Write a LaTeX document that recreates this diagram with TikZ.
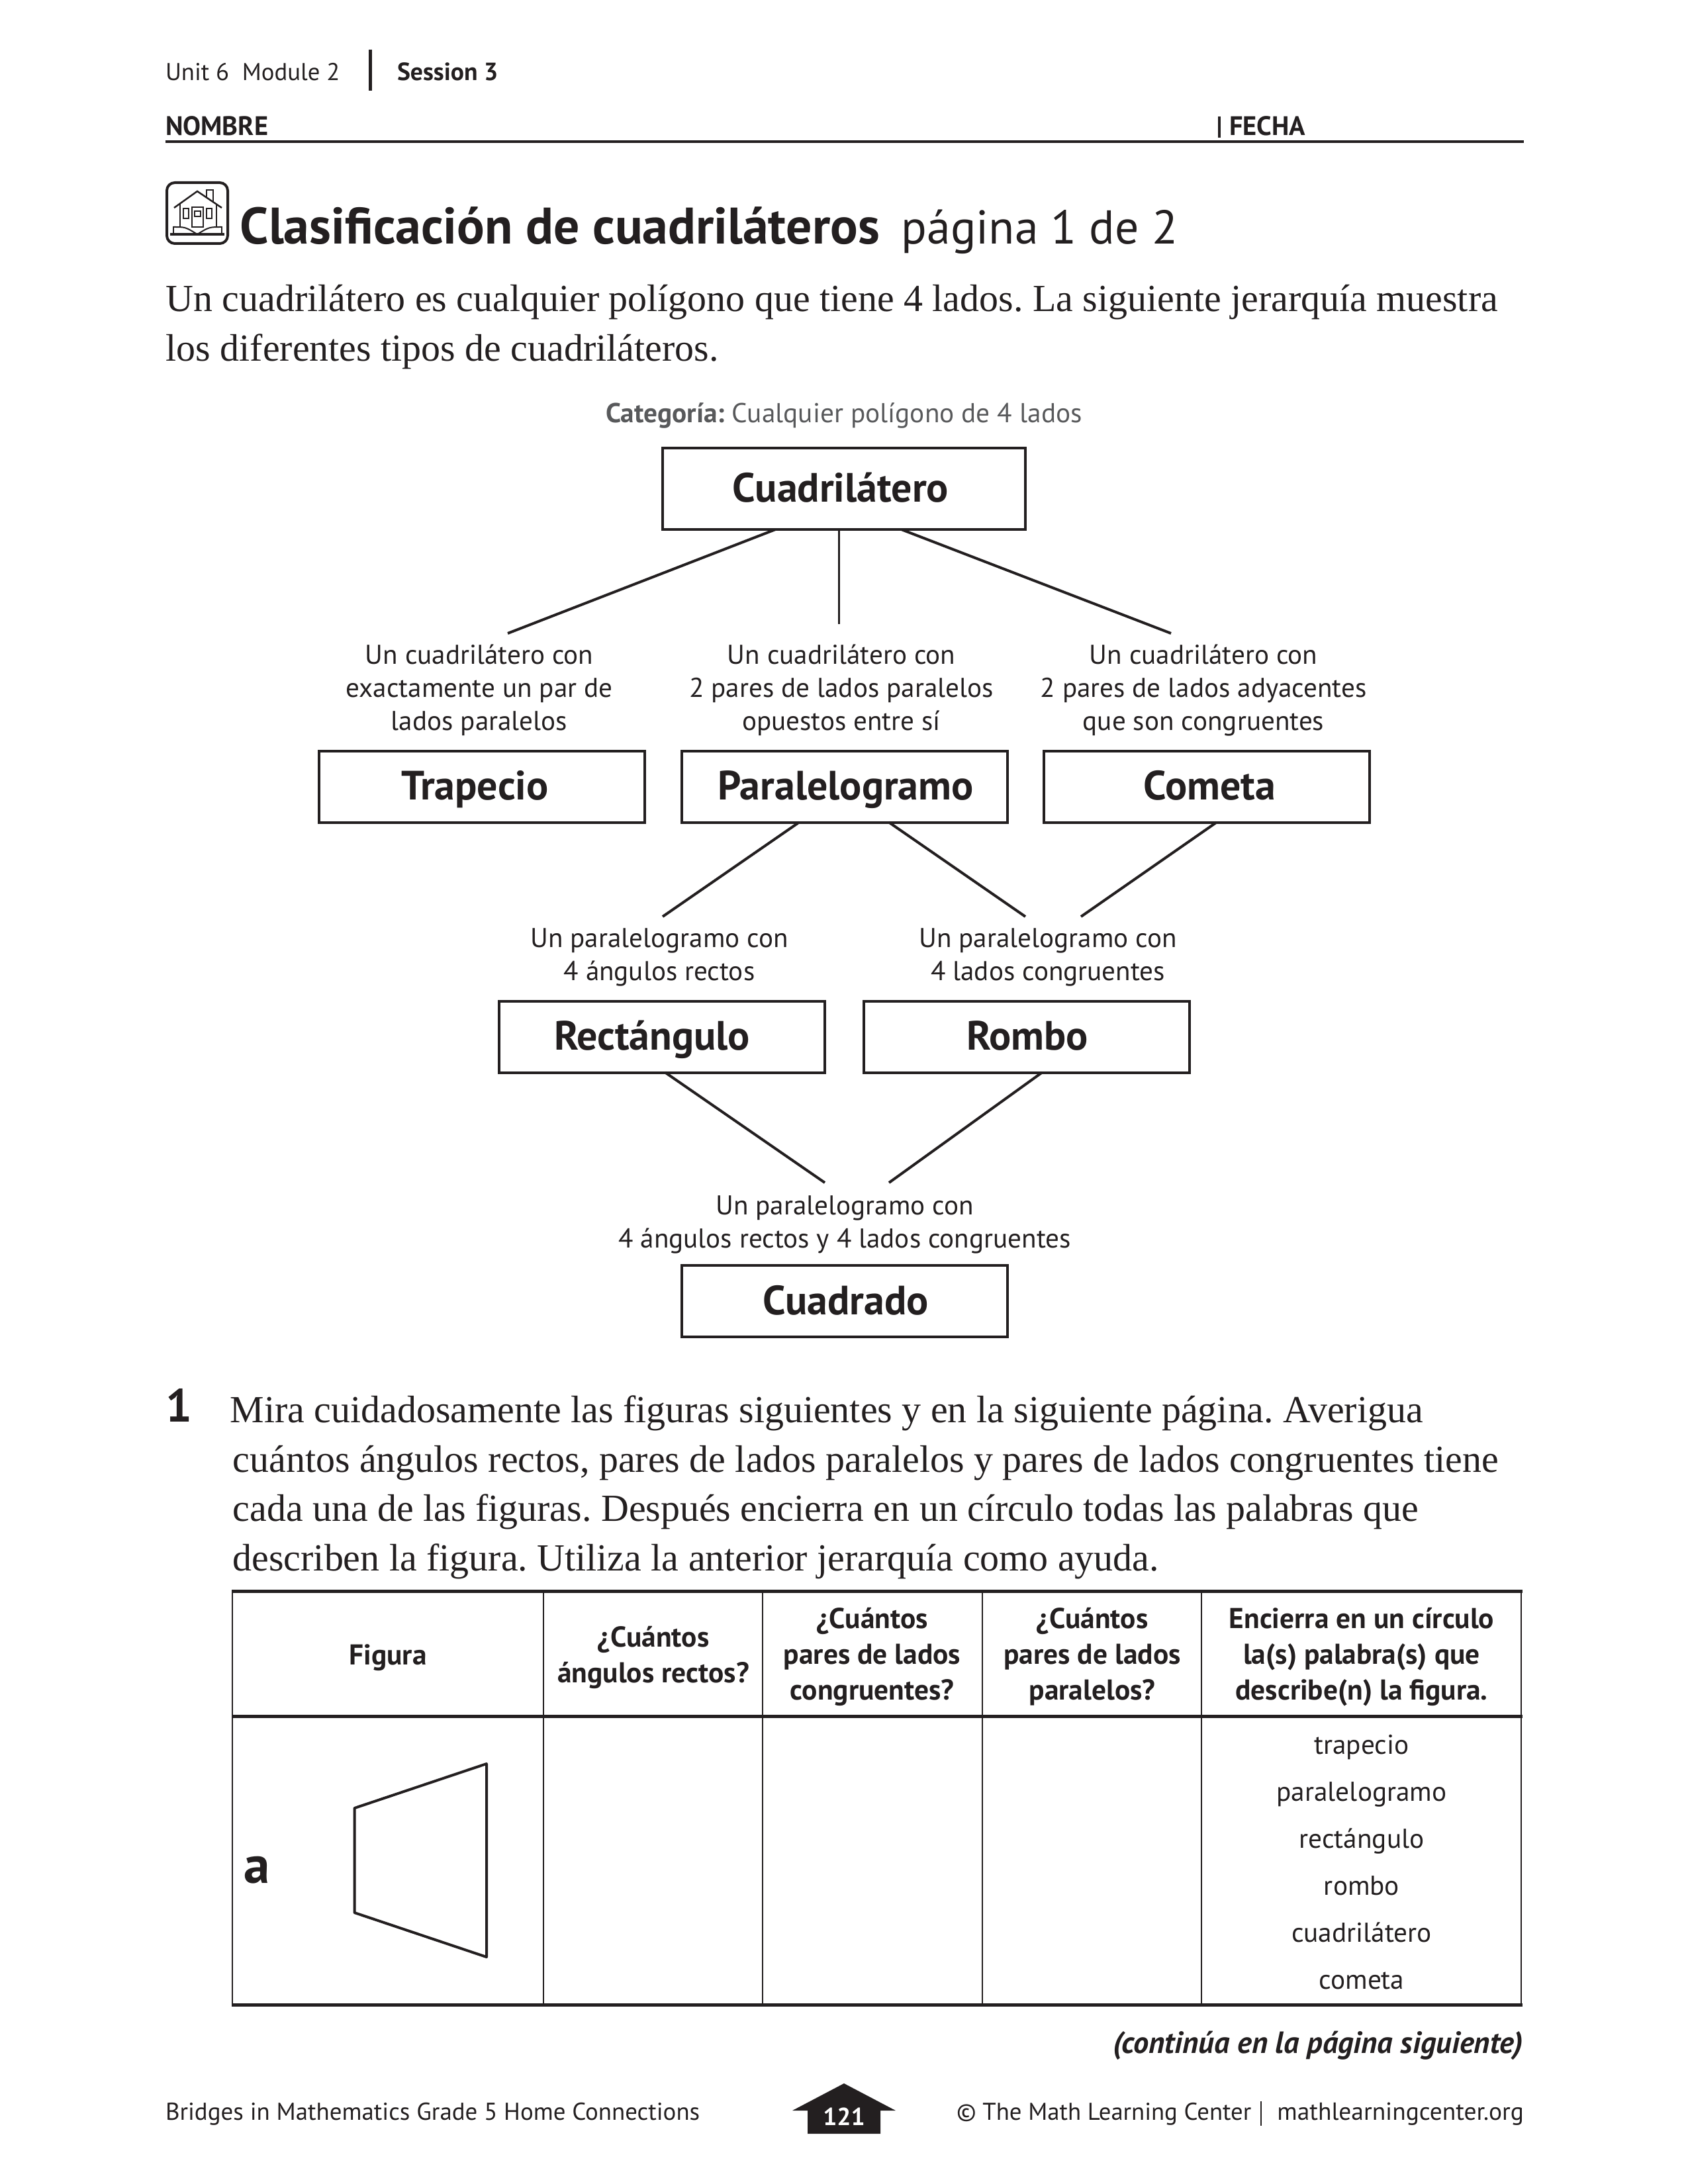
\documentclass[tikz,border=0pt]{standalone}
\usepackage{fontspec}
\usepackage{xcolor}
\setmainfont{Liberation Serif}
\setsansfont{PT Sans}
\usetikzlibrary{calc}
\definecolor{ink}{HTML}{231F20}
\definecolor{catgray}{HTML}{58595B}
\frenchspacing
\tikzset{
pagetext/.style={inner sep=0,outer sep=0,text=ink,font=\sffamily\fontsize{10.45}{12}\selectfont},
pagebold/.style={pagetext,font=\sffamily\bfseries\fontsize{10.7}{12}\selectfont},
capsbold/.style={pagetext,font=\sffamily\bfseries\fontsize{11.5}{12}\selectfont},
bodyline/.style={anchor=base west,inner sep=0,text=ink,font=\fontsize{16.48}{20}\selectfont},
catbox/.style={draw=ink,line width=.04cm,inner sep=0,outer sep=0,minimum width=4.92cm,minimum height=1.08cm,text height=.5cm,text depth=.1cm,text=ink,font=\sffamily\bfseries\fontsize{17.6}{20}\selectfont},
catdesc/.style={anchor=base,align=center,inner sep=0,text=ink,font=\sffamily\fontsize{11.7}{14.1}\selectfont},
headcell/.style={anchor=base,inner sep=0,text=ink,font=\sffamily\bfseries\fontsize{12.35}{14}\selectfont},
wordcell/.style={anchor=base,inner sep=0,text=ink,font=\sffamily\fontsize{11.75}{14}\selectfont},
branch/.style={draw=ink,line width=.04cm},
gridline/.style={draw=ink,line width=.028cm},
heavyline/.style={draw=ink,line width=.05cm},
}
\begin{document}
\begin{tikzpicture}[y=-1cm]
\useasboundingbox (0,0) rectangle (25.5,33);
\node[pagetext,anchor=base west] (unit) at (2.5,1.22) {Unit 6\ \ Module 2};
\node[pagebold,anchor=base west] (session) at (6.0,1.22) {Session 3};
\draw[ink,line width=.05cm] (5.59,.75)--(5.59,1.37);
\node[capsbold,anchor=base west] (nombre) at (2.5,2.05) {NOMBRE};
\node[capsbold,anchor=base west] (fecha) at (18.57,2.05) {FECHA};
\draw[ink,line width=.04cm] (18.42,1.76)--(18.42,2.08);
\draw[ink,line width=.045cm] (2.5,2.14)--(23.02,2.14);
\draw[ink,line width=.04cm,rounded corners=.12cm] (2.52,2.76) rectangle (3.44,3.68);
\draw[ink,line width=.025cm] (2.63,3.14)--(2.98,2.89)--(3.35,3.14);
\draw[ink,line width=.02cm] (3.12,2.98)--(3.12,2.87)--(3.22,2.87)--(3.22,3.06);
\draw[ink,line width=.02cm] (2.72,3.08)--(2.72,3.44) (3.27,3.08)--(3.27,3.44);
\draw[ink,line width=.02cm] (2.90,3.13) rectangle (3.07,3.43) (2.94,3.19) rectangle (3.03,3.27);
\draw[ink,line width=.02cm] (2.77,3.15) rectangle (2.85,3.30) (3.12,3.15) rectangle (3.20,3.30);
\draw[ink,line width=.02cm] (2.62,3.42)--(2.62,3.52) (3.35,3.42)--(3.35,3.52);
\draw[ink,line width=.02cm] (2.62,3.43).. controls (2.8,3.43) ..(2.98,3.54) (3.35,3.43).. controls (3.16,3.43) ..(2.98,3.54);
\draw[ink,line width=.04cm] (2.57,3.54)--(3.39,3.54);
\node[bodyline,font=\sffamily\bfseries\fontsize{22.1}{24}\selectfont] (titulo) at (3.62,3.69) {Clasificación de cuadriláteros};
\node[bodyline,font=\sffamily\fontsize{20.4}{24}\selectfont] (pagina) at (13.61,3.69) {página 1 de 2};
\node[bodyline] (intro1) at (2.5,4.71) {Un cuadrilátero es cualquier polígono que tiene 4 lados. La siguiente jerarquía muestra};
\node[bodyline] (intro2) at (2.5,5.46) {los diferentes tipos de cuadriláteros.};
\node[anchor=base,inner sep=0,text=catgray,font=\sffamily\fontsize{11.75}{14}\selectfont] (categoria) at (12.75,6.39) {\textbf{Categoría:} Cualquier polígono de 4 lados};
\node[catbox,minimum width=5.48cm,minimum height=1.23cm] (cuadrilatero) at (12.75,7.385) {\hspace*{-.1cm}Cuadrilátero};
\node[catbox] (trapecio) at (7.28,11.885) {\hspace*{-.21cm}Trapecio};
\node[catbox] (paralelogramo) at (12.755,11.885) {\hspace*{.04cm}Paralelogramo};
\node[catbox] (cometa) at (18.225,11.885) {\hspace*{.1cm}Cometa};
\node[catbox] (rectangulo) at (10.0,15.665) {\hspace*{-.3cm}Rectángulo};
\node[catbox] (rombo) at (15.51,15.665) {\hspace*{.02cm}Rombo};
\node[catbox] (cuadrado) at (12.755,19.66) {\hspace*{.04cm}Cuadrado};
\node[catdesc] (dtrapecio) at (7.24,11.03) {Un cuadrilátero con\\exactamente un par de\\lados paralelos};
\node[catdesc] (dparalelo) at (12.71,11.03) {Un cuadrilátero con\\2 pares de lados paralelos\\opuestos entre sí};
\node[catdesc] (dcometa) at (18.18,11.03) {Un cuadrilátero con\\2 pares de lados adyacentes\\que son congruentes};
\node[catdesc] (drectangulo) at (9.96,14.815) {Un paralelogramo con\\4 ángulos rectos};
\node[catdesc] (drombo) at (15.83,14.815) {Un paralelogramo con\\4 lados congruentes};
\node[catdesc] (dcuadrado) at (12.76,18.85) {Un paralelogramo con\\4 ángulos rectos y 4 lados congruentes};
\coordinate (ftrapecio) at (7.67,9.57);
\coordinate (fparalelo) at (12.67,9.43);
\coordinate (fcometa) at (17.69,9.57);
\coordinate (frecta) at (10.01,13.85);
\coordinate (frombo) at (15.49,13.85);
\coordinate (frombob) at (16.33,13.85);
\coordinate (fcuadl) at (12.46,17.87);
\coordinate (fcuadr) at (13.43,17.87);
\draw[branch] ($(cuadrilatero.south west)!.311!(cuadrilatero.south east)$)--(ftrapecio);
\draw[branch,line width=.03cm] (cuadrilatero.south -| fparalelo)--(fparalelo);
\draw[branch] ($(cuadrilatero.south west)!.658!(cuadrilatero.south east)$)--(fcometa);
\draw[branch] ($(paralelogramo.south west)!.361!(paralelogramo.south east)$)--(frecta);
\draw[branch] ($(paralelogramo.south west)!.637!(paralelogramo.south east)$)--(frombo);
\draw[branch] ($(cometa.south west)!.531!(cometa.south east)$)--(frombob);
\draw[branch] ($(rectangulo.south west)!.51!(rectangulo.south east)$)--(fcuadl);
\draw[branch] ($(rombo.south west)!.547!(rombo.south east)$)--(fcuadr);
\node[anchor=base west,inner sep=0,text=ink,font=\sffamily\bfseries\fontsize{20}{24}\selectfont] (num) at (2.5,21.48) {1};
\node[bodyline] (preg1) at (3.47,21.49) {Mira cuidadosamente las figuras siguientes y en la siguiente página. Averigua};
\node[bodyline] (preg2) at (3.51,22.24) {cuántos ángulos rectos, pares de lados paralelos y pares de lados congruentes tiene};
\node[bodyline] (preg3) at (3.51,22.98) {cada una de las figuras. Después encierra en un círculo todas las palabras que};
\node[bodyline] (preg4) at (3.51,23.73) {describen la figura. Utiliza la anterior jerarquía como ayuda.};
\draw[heavyline] (3.5,24.04)--(23.0,24.04);
\draw[heavyline] (3.5,25.93)--(23.0,25.93);
\draw[heavyline] (3.5,30.29)--(23.0,30.29);
\draw[gridline] (3.51,24.04)--(3.51,30.29);
\draw[gridline] (8.21,24.04)--(8.21,30.29);
\draw[gridline] (11.52,24.04)--(11.52,30.29);
\draw[gridline] (14.84,24.04)--(14.84,30.29);
\draw[gridline] (18.15,24.04)--(18.15,30.29);
\draw[gridline] (22.98,24.04)--(22.98,30.29);
\node[headcell] (hfigura) at (5.86,25.15) {Figura};
\node[headcell] (hangulos1) at (9.87,24.88) {¿Cuántos};
\node[headcell] (hangulos2) at (9.87,25.42) {ángulos rectos?};
\node[headcell] (hcongr1) at (13.175,24.605) {¿Cuántos};
\node[headcell] (hcongr2) at (13.175,25.14) {pares de lados};
\node[headcell] (hcongr3) at (13.175,25.685) {congruentes?};
\node[headcell] (hparal1) at (16.5,24.605) {¿Cuántos};
\node[headcell] (hparal2) at (16.5,25.14) {pares de lados};
\node[headcell] (hparal3) at (16.5,25.685) {paralelos?};
\node[headcell] (hcirc1) at (20.57,24.605) {Encierra en un círculo};
\node[headcell] (hcirc2) at (20.57,25.14) {la(s) palabra(s) que};
\node[headcell] (hcirc3) at (20.57,25.685) {describe(n) la figura.};
\node[anchor=base west,inner sep=0,text=ink,font=\sffamily\bfseries\fontsize{22.5}{24}\selectfont] (filaa) at (3.68,28.45) {a};
\draw[ink,line width=.04cm,line join=round] (5.355,27.32)--(7.35,26.65)--(7.35,29.57)--(5.355,28.90)--cycle;
\node[wordcell] (wtrapecio) at (20.57,26.5) {trapecio};
\node[wordcell] (wparalelo) at (20.57,27.21) {paralelogramo};
\node[wordcell] (wrectangulo) at (20.57,27.92) {rectángulo};
\node[wordcell] (wrombo) at (20.57,28.63) {rombo};
\node[wordcell] (wcuadri) at (20.57,29.34) {cuadrilátero};
\node[wordcell] (wcometa) at (20.57,30.05) {cometa};
\node[anchor=base east,inner sep=0,text=ink,font=\sffamily\bfseries\itshape\fontsize{13.2}{14}\selectfont] (continua) at (23.02,31.02) {(continúa en la página siguiente)};
\node[pagetext,anchor=base west,font=\sffamily\fontsize{10.5}{12}\selectfont] (bridges) at (2.5,32.03) {Bridges in Mathematics Grade 5 Home Connections};
\fill[ink] (12.75,31.48)--(13.53,31.89)--(13.3,31.89)--(13.3,32.24)--(12.2,32.24)--(12.2,31.89)--(11.97,31.89)--cycle;
\node[anchor=base,inner sep=0,text=white,font=\sffamily\bfseries\fontsize{10.6}{12}\selectfont] (pagenum) at (12.75,32.11) {121};
\node[pagetext,anchor=base west] (center) at (14.45,32.03) {© The Math Learning Center};
\draw[ink,line width=.015cm] (19.05,31.75)--(19.05,32.12);
\node[pagetext,anchor=base east,font=\sffamily\fontsize{10.65}{12}\selectfont] (web) at (23.02,32.03) {mathlearningcenter.org};
\end{tikzpicture}
\end{document}
